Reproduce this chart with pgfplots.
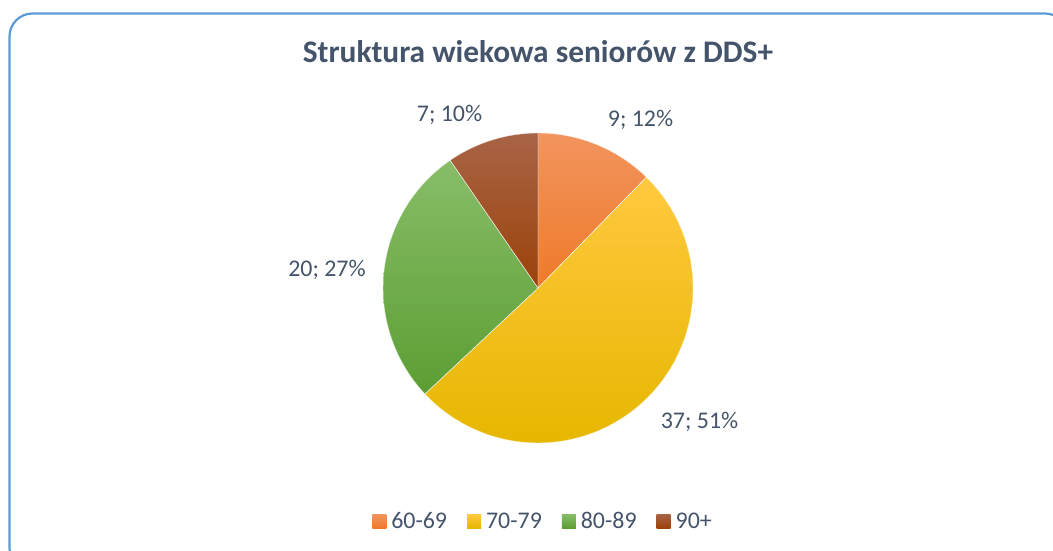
\documentclass[border=0pt]{standalone}
\usepackage{pgfplots}
\pgfplotsset{compat=1.18}
\usepackage{pgfplotstable}
\usepgfplotslibrary{polar}
\usepackage{fontspec}
\setmainfont{Carlito}
\definecolor{txt}{HTML}{44546A}
\definecolor{frame}{HTML}{5B9BD5}
\definecolor{oraT}{HTML}{F2945E}
\definecolor{oraB}{HTML}{EF7A2A}
\definecolor{yelT}{HTML}{FFC93F}
\definecolor{yelB}{HTML}{E6B700}
\definecolor{grnT}{HTML}{88BD68}
\definecolor{grnB}{HTML}{5C9E33}
\definecolor{brnT}{HTML}{A86446}
\definecolor{brnB}{HTML}{9C4208}

\pgfplotstableread{
group count
60-69 9
70-79 37
80-89 20
90+ 7
}\agedata

\begin{document}
\begin{tikzpicture}[x=1bp,y=1bp]
\useasboundingbox (0,0) rectangle (1053,551);
\draw[frame, line width=2.2bp, rounded corners=23bp] (9.5,-20) rectangle (1068,537.5);

% cumulative angles, clockwise from 12 o'clock
\pgfplotstablegetelem{0}{count}\of\agedata \pgfmathsetmacro{\va}{\pgfplotsretval}
\pgfplotstablegetelem{1}{count}\of\agedata \pgfmathsetmacro{\vb}{\pgfplotsretval}
\pgfplotstablegetelem{2}{count}\of\agedata \pgfmathsetmacro{\vc}{\pgfplotsretval}
\pgfplotstablegetelem{3}{count}\of\agedata \pgfmathsetmacro{\vd}{\pgfplotsretval}
\pgfmathsetmacro{\tot}{\va+\vb+\vc+\vd}
\pgfmathsetmacro{\aA}{90}
\pgfmathsetmacro{\aB}{\aA-360*\va/\tot}
\pgfmathsetmacro{\aC}{\aB-360*\vb/\tot}
\pgfmathsetmacro{\aD}{\aC-360*\vc/\tot}
\pgfmathsetmacro{\aE}{\aD-360*\vd/\tot}

\begin{polaraxis}[
    at={(538bp,263bp)}, anchor=center,
    width=310bp, height=310bp, scale only axis,
    hide axis,
    ymin=0, ymax=1,
    legend columns=4,
    legend style={draw=none, fill=none, at={(0.513,-0.252)}, anchor=center,
        font=\fontsize{24}{28}\selectfont, text=txt,
        /tikz/every odd column/.style={column sep=5bp},
        /tikz/every even column/.style={column sep=20bp},
        nodes={inner sep=0pt}},
    legend image code/.code={\path[#1, draw=none] (0bp,-7bp) rectangle (14bp,7bp);},
]
\addplot[draw=white, line width=0.4bp, top color=oraT, bottom color=oraB, domain=\aB:\aA, samples=60] {1} -- (axis cs:0,0) -- cycle;
\addlegendentry{60-69}
\addplot[draw=white, line width=0.4bp, top color=yelT, bottom color=yelB, domain=\aC:\aB, samples=120] {1} -- (axis cs:0,0) -- cycle;
\addlegendentry{70-79}
\addplot[draw=white, line width=0.4bp, top color=grnT, bottom color=grnB, domain=\aD:\aC, samples=80] {1} -- (axis cs:0,0) -- cycle;
\addlegendentry{80-89}
\addplot[draw=white, line width=0.4bp, top color=brnT, bottom color=brnB, domain=\aE:\aD, samples=40] {1} -- (axis cs:0,0) -- cycle;
\addlegendentry{90+}
\end{polaraxis}

\node[anchor=base, text=txt, font=\fontsize{31.5}{36}\selectfont\bfseries] at (538,488) {Struktura wiekowa seniorów z DDS+};
\begin{scope}[every node/.style={anchor=base, text=txt, font=\fontsize{24}{28}\selectfont, inner sep=0pt}]
\node at (640.5,424) {9; 12\%};
\node at (699.5,122) {37; 51\%};
\node at (327,274) {20; 27\%};
\node at (449.5,429) {7; 10\%};
\end{scope}
\end{tikzpicture}
\end{document}
